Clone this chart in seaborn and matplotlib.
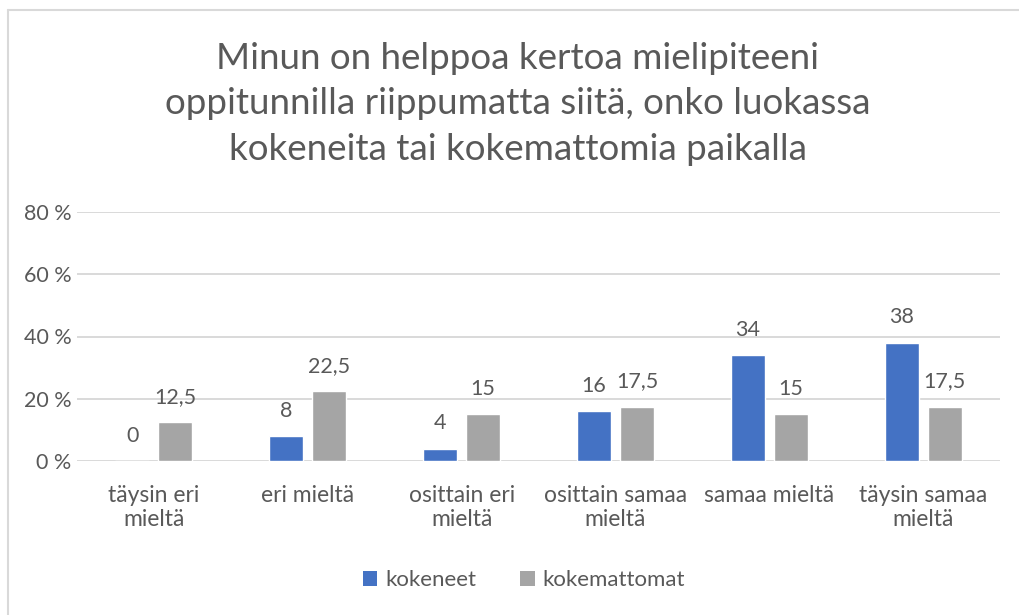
import matplotlib
matplotlib.use("Agg")
import matplotlib.pyplot as plt
from matplotlib.lines import Line2D
from matplotlib.patches import Patch
import seaborn as sns
import pandas as pd

categories = ["täysin eri\nmieltä", "eri mieltä", "osittain eri\nmieltä",
              "osittain samaa\nmieltä", "samaa mieltä", "täysin samaa\nmieltä"]
kokeneet = [0, 8, 4, 16, 34, 38]
kokemattomat = [12.5, 22.5, 15, 17.5, 15, 17.5]
series_names = ["kokeneet", "kokemattomat"]
ytick_values = [0, 20, 40, 60, 80]
ytick_labels = ["0 %", "20 %", "40 %", "60 %", "80 %"]
title = "Minun on helppoa kertoa mielipiteeni\noppitunnilla riippumatta siitä, onko luokassa\nkokeneita tai kokemattomia paikalla"

colors = ["#4472C4", "#A5A5A5"]
txt = "#595959"

sns.set_theme(style="white")
plt.rcParams['font.family'] = ['Lato', 'DejaVu Sans']

df = pd.DataFrame({
    "cat": categories * 2,
    "val": kokeneet + kokemattomat,
    "ser": [series_names[0]] * 6 + [series_names[1]] * 6,
})

fig = plt.figure(figsize=(10.19, 6.15), dpi=100)
ax = fig.add_axes([77/1019, 1-461/615, (1000-77)/1019, (461-212)/615])

sns.barplot(data=df, x="cat", y="val", hue="ser", palette=colors, ax=ax,
            width=0.56, gap=0.21, legend=False, saturation=1)

ax.set_ylim(0, 80)
ax.set_xlim(-0.5, 5.5)
ax.set_yticks(ytick_values)
ax.set_yticklabels(ytick_labels, color=txt, fontsize=15.5)
ax.tick_params(axis='y', length=0, pad=4)
ax.tick_params(axis='x', length=0, pad=17, labelsize=16.5, labelcolor=txt)
for lab in ax.get_xticklabels():
    lab.set_linespacing(1.2)
ax.yaxis.grid(True, color="#D9D9D9", linewidth=1.4)
ax.set_axisbelow(True)
for s in ax.spines.values():
    s.set_visible(False)
ax.set_xlabel("")
ax.set_ylabel("")

def fmt(v):
    return (("%g" % v).replace(".", ","))

for cont in ax.containers:
    ax.bar_label(cont, labels=[fmt(b.get_height()) for b in cont], padding=11,
                 fontsize=15.5, color=txt)

fig.text(518/1019, 1-104/615, title, ha="center", va="center", fontsize=26.5,
         color=txt, linespacing=1.48)

handles = [Patch(facecolor=c, edgecolor='none') for c in colors]
fig.legend(handles, series_names, loc="center", bbox_to_anchor=(524/1019, 1-580/615),
           ncol=2, frameon=False, fontsize=16, labelcolor=txt, handlelength=0.65,
           handleheight=0.65, handletextpad=0.35, columnspacing=2.0)

fig.add_artist(Line2D([8/1019, 8/1019], [0, 1-10/615], transform=fig.transFigure,
                      color="#D9D9D9", linewidth=1.5))
fig.add_artist(Line2D([8/1019, 1], [1-10/615, 1-10/615], transform=fig.transFigure,
                      color="#D9D9D9", linewidth=1.5))

fig.savefig("out.png", dpi=100, facecolor="white")
